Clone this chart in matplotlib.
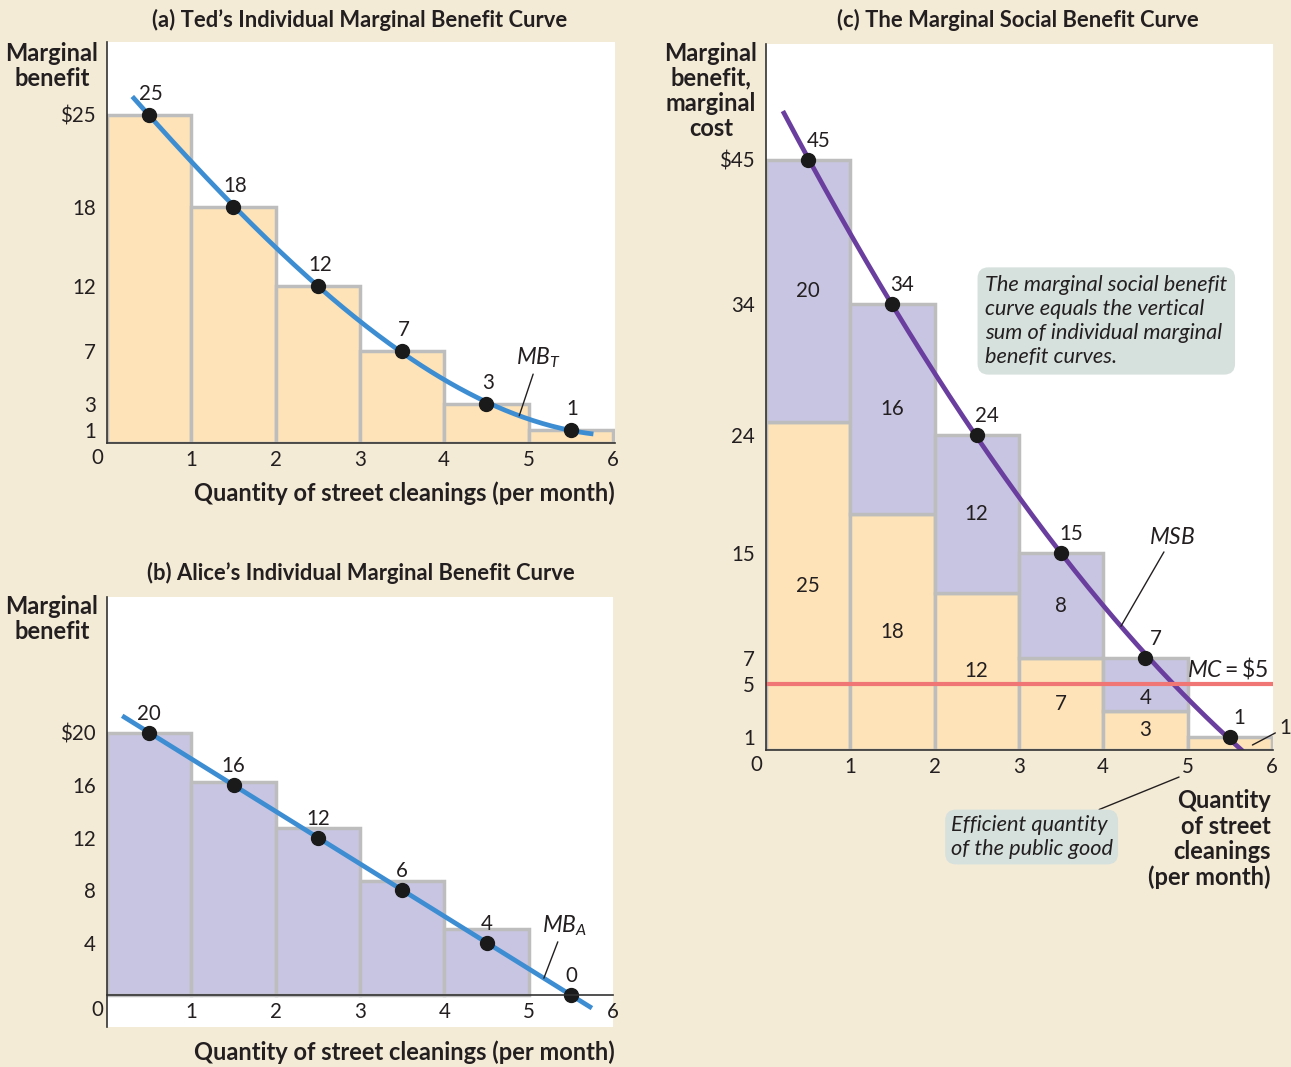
import numpy as np
import matplotlib
matplotlib.use("Agg")
import matplotlib.pyplot as plt

# データ
quantity = np.arange(1, 7)            # 1..6 回目の清掃
x_mid = quantity - 0.5                # 棒の中心
ted_mb = [25, 18, 12, 7, 3, 1]
alice_mb = [20, 16, 12, 8, 4, 0]
alice_labels = ["20", "16", "12", "6", "4", "0"]
alice_bars = [20, 16.2, 12.7, 8.7, 5.0, 0]   # (b) の棒の高さ
msb = [45, 34, 24, 15, 7, 1]
mc = 5

ted_ticks = [25, 18, 12, 7, 3, 1]
alice_ticks = [20, 16, 12, 8, 4]
msb_ticks = [45, 34, 24, 15, 7, 5, 1]
x_ticks = [1, 2, 3, 4, 5, 6]

# 色とフォント
BG = "#F4EBD7"
ORANGE = "#FDE3B7"
PURPLE = "#C8C5E2"
EDGE = "#BDBDBD"
BLUE = "#3D8DD3"
VIOLET = "#6A3E9E"
RED = "#F07575"
INK = "#231F20"
BOX = "#D6E1DD"

FS = 14.8     # 目盛り・数値
FT = 15.8     # パネル見出し
FB = 17       # 軸タイトル
FI = 15.7     # 斜体の説明文
FM = 16.5     # MB などの記号

plt.rcParams["font.family"] = ["Lato", "DejaVu Sans"]
plt.rcParams["mathtext.fontset"] = "custom"
plt.rcParams["mathtext.it"] = "Lato:italic"
plt.rcParams["mathtext.rm"] = "Lato"
plt.rcParams["text.color"] = INK

W, H = 1291, 1067
XS, YS = 84.3, 13.12   # 1単位あたりのピクセル

fig = plt.figure(figsize=(W / 100, H / 100), dpi=100, facecolor=BG)


def setup(ax, yticks, ylabels):
    ax.set_facecolor("white")
    for s in ["top", "right"]:
        ax.spines[s].set_visible(False)
    for s in ["left", "bottom"]:
        ax.spines[s].set_color("#333333")
        ax.spines[s].set_linewidth(1.2)
        ax.spines[s].set_zorder(6)
    ax.set_xticks(x_ticks)
    ax.set_yticks(yticks)
    ax.set_yticklabels(ylabels)
    ax.tick_params(axis="y", direction="in", length=11, width=1.1, color="#333333",
                   pad=8, labelsize=FS, labelcolor=INK)
    ax.tick_params(axis="x", length=0, pad=5, labelsize=FS, labelcolor=INK)
    ax.annotate("0", xy=(0, 0), xytext=(-10, -15), textcoords="offset pixels",
                ha="center", va="center", fontsize=FS, annotation_clip=False)


def point_labels(ax, xs, ys, labels, dx, dy):
    for x, y, t in zip(xs, ys, labels):
        ax.annotate(t, xy=(x, y), xytext=(dx, dy), textcoords="offset pixels",
                    ha="center", va="center", fontsize=FS, zorder=8)


def leader(ax, text, xy, xytext, size=FM):
    ax.annotate(text, xy=xy, xytext=xytext, ha="center", va="center", fontsize=size,
                annotation_clip=False, zorder=8,
                arrowprops=dict(arrowstyle="-", color=INK, lw=1, shrinkA=1, shrinkB=0))


# ---------- (a) Ted ----------
axA = fig.add_axes([107 / W, 1 - 443 / H, 508 / W, 401 / H])
axA.set_xlim(0, 508 / XS)
axA.set_ylim(0, 401 / YS)
setup(axA, ted_ticks, ["$25"] + [str(v) for v in ted_ticks[1:]])
axA.bar(x_mid, ted_mb, width=1, color=ORANGE, edgecolor=EDGE, linewidth=2.5, zorder=2)
ca = np.polyfit(x_mid, ted_mb, 3)
xa = np.linspace(0.3, 5.77, 200)
axA.plot(xa, np.polyval(ca, xa), color=BLUE, lw=3.4, zorder=4, solid_capstyle="butt")
axA.plot(x_mid, ted_mb, "o", color="#1A1A1A", ms=10, zorder=5)
point_labels(axA, x_mid, ted_mb, [str(v) for v in ted_mb], 2, 21)
leader(axA, r"$MB_T$", (4.89, np.polyval(ca, 4.89)), (5.12, 6.5))
fig.text(360 / W, 1 - 20 / H, "(a) Ted’s Individual Marginal Benefit Curve",
         ha="center", va="center", fontsize=FT, fontweight="bold")
fig.text(52 / W, 1 - 66 / H, "Marginal\nbenefit", ha="center", va="center",
         ma="center", fontsize=FB, fontweight="bold", linespacing=1.15)
fig.text(615 / W, 1 - 493 / H, "Quantity of street cleanings (per month)",
         ha="right", va="center", fontsize=FB, fontweight="bold")

# ---------- (b) Alice ----------
axB = fig.add_axes([107 / W, 1 - 1027 / H, 506 / W, 430 / H])
axB.set_xlim(0, 6.0)
axB.set_ylim(-32 / YS, 398 / YS)
setup(axB, alice_ticks, ["$20"] + [str(v) for v in alice_ticks[1:]])
axB.spines["bottom"].set_position(("data", 0))
bx = [x for x, h in zip(x_mid, alice_bars) if h > 0]
bh = [h for h in alice_bars if h > 0]
axB.bar(bx, bh, width=1, color=PURPLE, edgecolor=EDGE, linewidth=2.5, zorder=2)
cb = np.polyfit(x_mid, alice_mb, 1)
xb = np.linspace(0.18, 5.75, 100)
axB.plot(xb, np.polyval(cb, xb), color=BLUE, lw=3.4, zorder=4, solid_capstyle="butt")
axB.plot(x_mid, alice_mb, "o", color="#1A1A1A", ms=10, zorder=5, clip_on=False)
point_labels(axB, x_mid, alice_mb, alice_labels, 0, 19)
leader(axB, r"$MB_A$", (5.18, np.polyval(cb, 5.18)), (5.42, 5.3))
fig.text(361 / W, 1 - 573 / H, "(b) Alice’s Individual Marginal Benefit Curve",
         ha="center", va="center", fontsize=FT, fontweight="bold")
fig.text(52 / W, 1 - 619 / H, "Marginal\nbenefit", ha="center", va="center",
         ma="center", fontsize=FB, fontweight="bold", linespacing=1.15)
fig.text(615 / W, 1 - 1052 / H, "Quantity of street cleanings (per month)",
         ha="right", va="center", fontsize=FB, fontweight="bold")

# ---------- (c) MSB ----------
axC = fig.add_axes([766 / W, 1 - 750 / H, 507 / W, 706 / H])
axC.set_xlim(0, 507 / XS)
axC.set_ylim(0, 706 / YS)
setup(axC, msb_ticks, ["$45"] + [str(v) for v in msb_ticks[1:]])
axC.bar(x_mid, ted_mb, width=1, color=ORANGE, edgecolor=EDGE, linewidth=2.5, zorder=2)
cx = [x for x, h in zip(x_mid, alice_mb) if h > 0]
ch = [h for h in alice_mb if h > 0]
cbot = [t for t, h in zip(ted_mb, alice_mb) if h > 0]
axC.bar(cx, ch, bottom=cbot, width=1, color=PURPLE, edgecolor=EDGE, linewidth=2.5, zorder=2)

# 棒の中の数値
for i, (x, t, a) in enumerate(zip(x_mid, ted_mb, alice_mb)):
    if i < len(x_mid) - 1:
        axC.text(x, t / 2, str(t), ha="center", va="center", fontsize=FS, zorder=7)
    else:
        leader(axC, str(t), (5.77, 0.38), (6.16, 1.7), size=FS)
    if a > 0:
        yc = t + a / 2
        dy = -14 if abs(yc - mc) < 0.5 else 0
        axC.annotate(str(a), xy=(x, yc), xytext=(0, dy), textcoords="offset pixels",
                     ha="center", va="center", fontsize=FS, zorder=7)

axC.axhline(mc, xmin=0, xmax=6.0 / (507 / XS), color=RED, lw=3, zorder=5)
cc = np.polyfit(x_mid, msb, 2)
xc = np.linspace(0.2, 5.66, 200)
axC.plot(xc, np.polyval(cc, xc), color=VIOLET, lw=3.4, zorder=4, solid_capstyle="butt")
axC.plot(x_mid, msb, "o", color="#1A1A1A", ms=10, zorder=6)
point_labels(axC, x_mid, msb, [str(v) for v in msb], 10, 19)
leader(axC, r"$MSB$", (4.21, np.polyval(cc, 4.21)), (4.82, 16.2))
axC.text(5.48, 6.25, r"$MC = \$5$", ha="center", va="center", fontsize=FM, zorder=7)

axC.text(2.6, 32.7, "The marginal social benefit\ncurve equals the vertical\n"
         "sum of individual marginal\nbenefit curves.",
         ha="left", va="center", fontsize=FI, style="italic", linespacing=1.25, zorder=8,
         bbox=dict(boxstyle="round,pad=0.35,rounding_size=0.5", fc=BOX, ec="none"))
axC.annotate("Efficient quantity\nof the public good", xy=(4.90, -2.06), xytext=(2.19, -6.63),
             ha="left", va="center", fontsize=FI, style="italic", linespacing=1.25,
             annotation_clip=False,
             bbox=dict(boxstyle="round,pad=0.25,rounding_size=0.5", fc=BOX, ec="none"),
             arrowprops=dict(arrowstyle="-", color=INK, lw=1, shrinkA=0, shrinkB=0))

fig.text(1018 / W, 1 - 20 / H, "(c) The Marginal Social Benefit Curve",
         ha="center", va="center", fontsize=FT, fontweight="bold")
fig.text(711 / W, 1 - 91 / H, "Marginal\nbenefit,\nmarginal\ncost", ha="center",
         va="center", ma="center", fontsize=FB, fontweight="bold", linespacing=1.12)
fig.text(1271 / W, 1 - 839 / H, "Quantity\nof street\ncleanings\n(per month)",
         ha="right", va="center", ma="right", fontsize=FB, fontweight="bold", linespacing=1.12)

fig.savefig("out.png", dpi=100, facecolor=BG)
